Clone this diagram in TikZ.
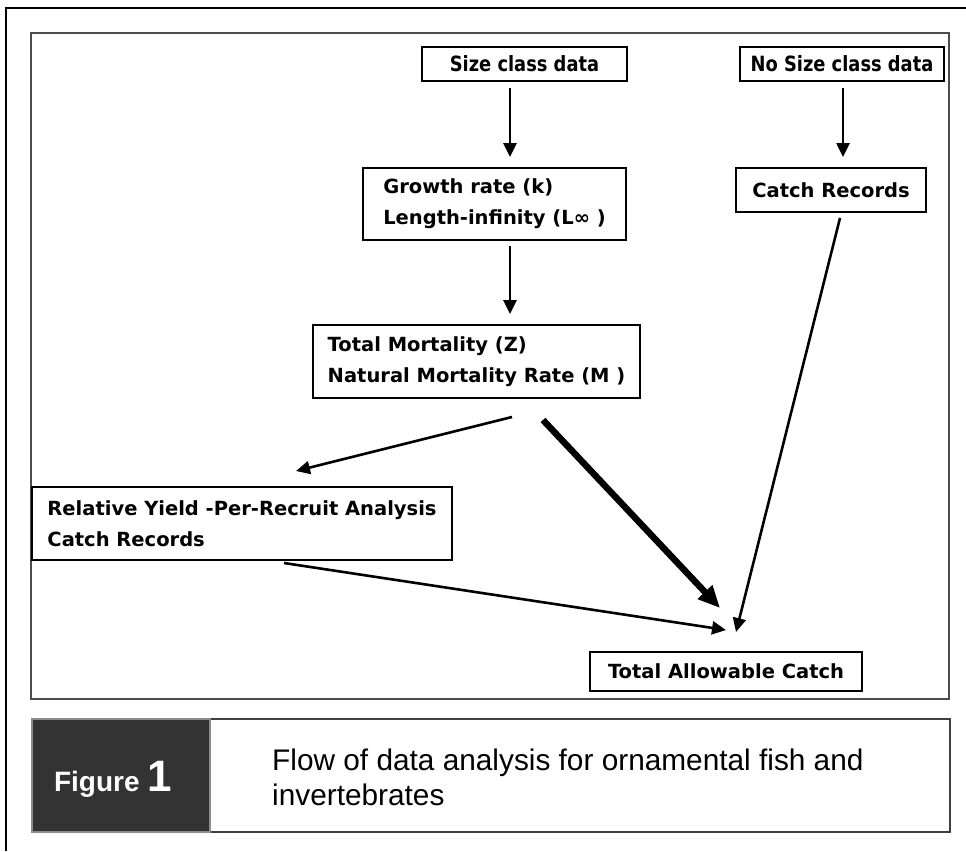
\documentclass[tikz,border=0pt]{standalone}
\usepackage{fontspec}
\setmainfont{DejaVu Sans}
\newfontfamily\condfont[FakeStretch=0.85]{DejaVu Sans}
\newfontfamily\capfont{Liberation Sans}
\usetikzlibrary{arrows.meta}
\begin{document}
\begin{tikzpicture}[x=1pt,y=-1pt,
  box/.style={draw=black,line width=2pt,fill=white,inner sep=0pt,font=\bfseries\fontsize{19.5}{31}\selectfont},
  topbox/.style={box,font=\condfont\bfseries\fontsize{21}{24}\selectfont},
  lbox/.style={box,align=left},
  arr/.style={line width=2.6pt,-{Triangle[length=14pt,width=13pt]}},
  tharr/.style={line width=6.5pt,-{Triangle[length=22pt,width=19pt]}}
]
\useasboundingbox (0,0) rectangle (966,851);
% outer frame (top and left)
\draw[line width=2pt] (966,8) -- (6,8) -- (6,851);
% inner frame
\draw[line width=2pt,draw=black!70] (31,33) rectangle (949,699);
% nodes
\node[topbox,minimum width=205pt,minimum height=34pt] (size) at (524.5,64) {Size class data};
\node[topbox,minimum width=204pt,minimum height=34pt] (nosize) at (842,64) {No Size class data};
\node[lbox,minimum width=263pt,minimum height=72pt] (growth) at (494.5,204) {Growth rate (k)\\Length-infinity (L∞ )};
\node[box,minimum width=190pt,minimum height=44pt] (catch) at (831,190) {Catch Records};
\node[lbox,minimum width=327pt,minimum height=73pt] (mort) at (476.5,361.5) {Total Mortality (Z)\\Natural Mortality Rate (M\ )};
\node[lbox,minimum width=420pt,minimum height=73pt] (yield) at (242,523.5) {Relative Yield -Per-Recruit Analysis\\Catch Records};
\node[box,minimum width=272pt,minimum height=39pt] (tac) at (726,671.5) {Total Allowable Catch};
% arrow end points
\coordinate (a1s) at (510,88);  \coordinate (a1e) at (510,157);
\coordinate (a2s) at (843,88);  \coordinate (a2e) at (843,157);
\coordinate (a3s) at (510,246); \coordinate (a3e) at (510,314);
\coordinate (a4s) at (512,417); \coordinate (a4e) at (296,471);
\coordinate (a5s) at (543,420); \coordinate (a5e) at (720,608);
\coordinate (a6s) at (840,218); \coordinate (a6e) at (736,632);
\coordinate (a7s) at (284,563); \coordinate (a7e) at (726,630);
\draw[arr] (a1s) -- (a1e);
\draw[arr] (a2s) -- (a2e);
\draw[arr] (a3s) -- (a3e);
\draw[arr] (a4s) -- (a4e);
\draw[tharr] (a5s) -- (a5e);
\draw[arr] (a6s) -- (a6e);
\draw[arr] (a7s) -- (a7e);
% caption
\draw[line width=1.2pt,draw=black!75] (32,719) rectangle (950,832);
\node[draw=black!45,line width=1.5pt,fill=black!80,minimum width=178pt,minimum height=113pt,inner sep=0pt] (figbox) at (121,775.5) {};
\node[text=white,font=\capfont\bfseries\fontsize{28}{28}\selectfont,anchor=base] (figlab) at (113,791) {Figure {\fontsize{44}{44}\selectfont 1}};
\node[font=\capfont\fontsize{29.8}{35}\selectfont,align=left,anchor=west,inner sep=0pt] (cap) at (272,777) {Flow of data analysis for ornamental fish and\\invertebrates};
\end{tikzpicture}
\end{document}
